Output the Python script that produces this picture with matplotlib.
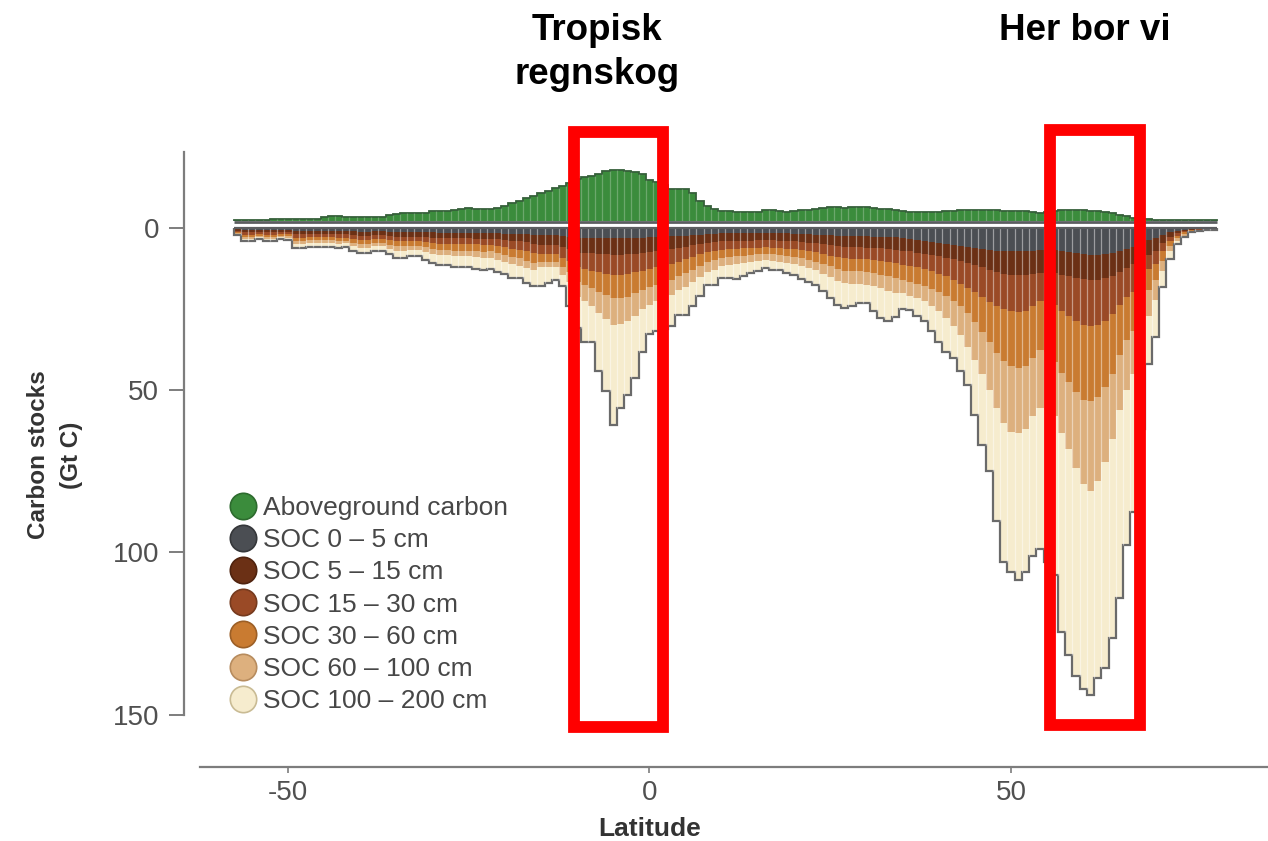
import numpy as np
import matplotlib.pyplot as plt
from matplotlib.lines import Line2D
from matplotlib.patches import Rectangle

plt.rcParams['font.family'] = ['Liberation Sans', 'DejaVu Sans']
plt.rcParams['axes.unicode_minus'] = False

# 1-degree latitude bands
lat = np.arange(-57, 79)

# aboveground carbon (Gt C), drawn above the zero line
agc = [0.3, 0.3, 0.3, 0.3, 0.3, 0.4, 0.4, 0.4, 0.5, 0.5,
       0.5, 0.6, 1.0, 1.3, 1.3, 1.0, 1.0, 1.0, 1.0, 1.0,
       1.2, 1.7, 2.0, 2.5, 2.5, 2.5, 2.5, 3.0, 3.0, 3.0,
       3.2, 3.5, 3.8, 3.5, 3.5, 3.5, 4.0, 4.6, 5.5, 6.1,
       7.0, 7.7, 8.5, 9.2, 10.0, 10.7, 11.5, 12.8, 13.6, 13.8,
       14.5, 15.2, 15.5, 15.5, 15.4, 14.9, 14.5, 12.5, 12.0, 11.0,
       9.9, 9.9, 9.9, 8.7, 6.1, 4.6, 3.5, 3.0, 3.0, 2.8,
       2.7, 2.7, 2.8, 3.3, 3.3, 2.9, 2.7, 2.9, 3.2, 3.3,
       3.7, 4.0, 4.1, 4.1, 4.0, 4.1, 4.1, 4.1, 4.0, 3.7,
       3.5, 3.2, 3.0, 2.8, 2.7, 2.7, 2.7, 2.8, 3.0, 3.0,
       3.2, 3.3, 3.3, 3.3, 3.3, 3.2, 3.0, 3.0, 3.0, 2.9,
       2.6, 2.5, 2.8, 3.0, 3.2, 3.3, 3.3, 3.2, 3.1, 2.9,
       2.7, 2.4, 1.8, 1.3, 0.8, 0.5, 0.4, 0.3, 0.3, 0.2,
       0.2, 0.1, 0.1, 0.1, 0.1, 0.1]

# soil organic carbon (Gt C), cumulative down to each depth
soc_5 = [0.3, 0.5, 0.5, 0.4, 0.5, 0.5, 0.4, 0.5, 0.8, 0.8,
         0.7, 0.7, 0.7, 0.7, 0.8, 0.8, 0.9, 1.0, 1.0, 0.9,
         0.9, 1.0, 1.1, 1.1, 1.1, 1.1, 1.2, 1.2, 1.3, 1.3,
         1.3, 1.3, 1.3, 1.3, 1.4, 1.4, 1.5, 1.6, 1.7, 1.7,
         1.8, 2.0, 2.0, 2.0, 2.1, 2.4, 2.6, 2.9, 3.0, 3.0,
         3.0, 3.0, 3.0, 3.0, 3.0, 2.9, 2.8, 2.7, 2.6, 2.5,
         2.4, 2.3, 2.2, 2.1, 2.0, 1.8, 1.7, 1.5, 1.5, 1.5,
         1.5, 1.5, 1.4, 1.4, 1.4, 1.5, 1.5, 1.6, 1.7, 1.8,
         1.9, 2.0, 2.1, 2.2, 2.3, 2.3, 2.3, 2.4, 2.5, 2.5,
         2.6, 2.7, 2.9, 3.2, 3.5, 3.8, 4.1, 4.4, 4.7, 5.0,
         5.3, 5.6, 5.9, 6.2, 6.5, 6.8, 7.0, 7.1, 7.1, 7.0,
         6.8, 6.6, 6.5, 6.6, 6.9, 7.3, 7.7, 8.0, 8.2, 8.2,
         8.0, 7.7, 7.1, 6.4, 5.8, 4.8, 3.7, 3.0, 2.0, 1.2,
         0.7, 0.4, 0.2, 0.15, 0.1, 0.1]

soc_15 = [0.7, 1.2, 1.2, 1.0, 1.2, 1.2, 1.0, 1.1, 1.8, 1.8,
          1.7, 1.7, 1.7, 1.7, 1.8, 1.8, 2.0, 2.3, 2.3, 2.1,
          2.1, 2.4, 2.6, 2.6, 2.5, 2.5, 2.7, 2.8, 3.0, 3.0,
          3.0, 3.0, 3.0, 3.1, 3.2, 3.2, 3.4, 3.6, 3.9, 4.0,
          4.3, 4.8, 5.0, 5.0, 5.2, 5.8, 6.4, 7.5, 7.6, 7.7,
          7.8, 8.0, 8.1, 8.1, 8.0, 7.8, 7.5, 7.2, 7.0, 6.7,
          6.4, 6.0, 5.6, 5.2, 4.8, 4.4, 4.2, 4.0, 3.9, 3.8,
          3.8, 3.8, 3.7, 3.7, 3.7, 3.8, 3.9, 4.0, 4.2, 4.4,
          4.6, 4.9, 5.2, 5.5, 5.7, 5.8, 5.8, 5.9, 6.0, 6.1,
          6.3, 6.5, 6.8, 7.1, 7.5, 7.8, 8.2, 8.6, 9.0, 9.5,
          10.0, 10.6, 11.3, 12.0, 12.8, 13.5, 14.0, 14.3, 14.4, 14.3,
          14.0, 13.6, 13.5, 13.8, 14.3, 14.8, 15.3, 15.7, 15.9, 15.8,
          15.4, 14.6, 13.5, 12.2, 11.0, 9.5, 8.2, 7.0, 4.5, 2.5,
          1.4, 0.8, 0.4, 0.3, 0.2, 0.2]

soc_30 = [1.0, 1.9, 1.9, 1.6, 1.9, 1.9, 1.6, 1.7, 2.9, 2.9,
          2.7, 2.7, 2.7, 2.7, 2.9, 2.8, 3.2, 3.5, 3.5, 3.2,
          3.2, 3.7, 4.0, 4.0, 3.9, 3.9, 4.2, 4.4, 4.7, 4.7,
          4.8, 4.8, 4.8, 4.9, 5.0, 5.0, 5.4, 5.8, 6.3, 6.5,
          7.0, 7.7, 7.8, 7.8, 8.0, 9.0, 10.0, 12.0, 12.5, 13.0,
          13.5, 14.0, 14.3, 14.3, 14.0, 13.5, 13.0, 12.5, 12.0, 11.5,
          11.0, 10.2, 9.5, 8.8, 8.0, 7.2, 6.9, 6.6, 6.4, 6.2,
          6.1, 6.0, 5.9, 5.8, 5.9, 6.0, 6.2, 6.4, 6.7, 7.0,
          7.4, 7.9, 8.4, 8.9, 9.2, 9.3, 9.3, 9.5, 9.8, 10.1,
          10.5, 10.8, 11.2, 11.6, 12.0, 12.5, 13.2, 14.0, 14.8, 15.8,
          17.0, 18.3, 19.7, 21.2, 22.6, 24.0, 25.0, 25.6, 25.8, 25.6,
          24.0, 22.5, 22.5, 23.6, 25.5, 27.0, 28.5, 29.7, 30.2, 29.8,
          28.5, 26.5, 23.6, 21.0, 19.5, 15.5, 12.6, 11.0, 7.0, 4.0,
          2.2, 1.2, 0.6, 0.4, 0.3, 0.3]

soc_60 = [1.4, 2.7, 2.7, 2.2, 2.7, 2.7, 2.2, 2.4, 4.0, 4.0,
          3.7, 3.7, 3.7, 3.7, 4.0, 3.8, 4.4, 4.8, 4.8, 4.4,
          4.4, 5.0, 5.5, 5.5, 5.3, 5.3, 5.8, 6.2, 6.6, 6.6,
          6.8, 6.8, 6.8, 7.0, 7.2, 7.1, 7.6, 8.2, 8.9, 9.2,
          9.9, 10.6, 10.2, 10.2, 10.3, 12.0, 13.3, 16.5, 17.5, 18.5,
          19.5, 20.5, 21.5, 21.5, 21.0, 20.0, 19.0, 18.0, 17.5, 16.8,
          16.0, 14.8, 13.8, 12.8, 11.5, 10.3, 9.8, 9.2, 8.9, 8.6,
          8.4, 8.2, 8.0, 7.9, 8.0, 8.2, 8.5, 8.8, 9.2, 9.6,
          10.2, 10.9, 11.7, 12.5, 13.0, 13.2, 13.2, 13.4, 13.8, 14.3,
          14.8, 15.3, 15.8, 16.4, 17.0, 17.7, 18.6, 19.6, 20.8, 22.3,
          24.0, 26.2, 28.8, 31.8, 35.0, 38.5, 41.0, 42.5, 43.0, 42.5,
          40.0, 37.5, 38.0, 41.3, 44.5, 47.5, 50.5, 53.0, 53.4, 52.0,
          49.0, 45.0, 39.0, 34.5, 31.5, 25.0, 19.0, 16.0, 10.0, 5.5,
          3.0, 1.7, 0.8, 0.55, 0.4, 0.35]

soc_100 = [1.7, 3.3, 3.3, 2.7, 3.3, 3.3, 2.7, 2.9, 4.9, 4.9,
           4.5, 4.5, 4.5, 4.5, 4.9, 4.6, 5.3, 5.9, 5.9, 5.4,
           5.4, 6.2, 6.8, 6.8, 6.6, 6.6, 7.3, 7.8, 8.3, 8.3,
           8.6, 8.6, 8.6, 8.8, 9.1, 9.0, 9.6, 10.3, 11.1, 11.5,
           12.3, 12.8, 12.0, 12.0, 12.0, 14.3, 16.5, 21.0, 22.5, 24.0,
           26.0, 28.0, 29.7, 29.5, 28.5, 27.0, 25.0, 23.5, 22.5, 21.5,
           20.5, 19.0, 18.0, 16.5, 15.0, 13.3, 12.7, 11.7, 11.3, 11.0,
           10.7, 10.3, 10.0, 9.8, 10.0, 10.2, 10.6, 11.0, 11.6, 12.2,
           12.9, 13.9, 15.0, 16.1, 16.8, 17.0, 17.0, 17.3, 17.9, 18.5,
           19.2, 19.8, 20.0, 20.7, 21.5, 22.5, 23.8, 25.4, 27.5, 30.0,
           33.0, 36.5, 40.5, 45.0, 50.0, 55.5, 60.0, 62.7, 63.0, 62.0,
           58.0, 55.5, 56.0, 57.8, 63.0, 68.0, 74.0, 79.0, 80.9, 78.0,
           72.0, 65.0, 56.0, 50.0, 45.0, 35.0, 27.0, 22.0, 13.0, 7.0,
           4.0, 2.2, 1.0, 0.7, 0.5, 0.4]

soc_200 = [2.0, 4.0, 4.0, 3.2, 4.0, 4.0, 3.2, 3.5, 6.1, 6.1,
           5.6, 5.6, 5.6, 5.6, 6.1, 5.8, 6.8, 7.6, 7.6, 6.9,
           6.9, 8.0, 9.0, 9.0, 8.6, 8.6, 9.7, 10.7, 11.4, 11.4,
           12.0, 12.0, 12.0, 12.4, 12.8, 12.4, 13.3, 14.1, 15.3, 15.3,
           16.7, 17.9, 17.9, 16.9, 15.8, 17.9, 24.0, 30.8, 34.9, 34.9,
           44.1, 50.1, 60.6, 55.5, 51.3, 46.2, 38.0, 32.6, 31.5, 31.0,
           30.2, 26.6, 26.6, 23.8, 20.7, 17.4, 17.4, 15.3, 15.3, 15.5,
           14.8, 13.8, 13.0, 12.2, 12.8, 12.8, 13.8, 14.5, 15.6, 16.4,
           17.6, 19.4, 21.5, 23.6, 24.6, 24.0, 23.0, 23.0, 25.6, 27.5,
           28.7, 27.2, 25.0, 25.3, 27.0, 28.7, 31.5, 35.0, 38.0, 40.0,
           44.1, 48.2, 57.5, 66.8, 75.0, 90.4, 102.8, 105.9, 108.4, 106.0,
           101.2, 99.0, 103.0, 106.9, 124.4, 131.6, 138.0, 142.0, 143.9, 138.8,
           135.7, 126.5, 114.1, 97.8, 87.5, 62.0, 41.7, 33.5, 18.1, 9.3,
           4.9, 2.7, 1.2, 0.8, 0.6, 0.5]

labels = ['Aboveground carbon', 'SOC 0 \u2013 5 cm', 'SOC 5 \u2013 15 cm', 'SOC 15 \u2013 30 cm',
          'SOC 30 \u2013 60 cm', 'SOC 60 \u2013 100 cm', 'SOC 100 \u2013 200 cm']
colors = ['#3b8c3c', '#4b4e53', '#6b3015', '#9a4a26', '#c97b31', '#ddb07e', '#f6ecce']
edge_colors = ['#2d6b2e', '#35373a', '#4f230f', '#763a1e', '#9c5f26', '#b78c5e', '#c9bb94']

ag_base = -2.4

fig = plt.figure(figsize=(12.68, 8.41), dpi=100)
ax = fig.add_axes([184 / 1268, 74 / 841, 1084 / 1268, 615 / 841])

edges = np.append(lat - 0.5, lat[-1] + 0.5)

# aboveground bars (upwards)
agc = np.array(agc)
ax.bar(lat, -agc, bottom=ag_base, width=1.0, color=colors[0], linewidth=0)

# soil layers (downwards, stacked)
tops = [np.array(a) for a in (soc_5, soc_15, soc_30, soc_60, soc_100, soc_200)]
prev = np.zeros(len(lat))
for top, col in zip(tops, colors[1:]):
    ax.bar(lat, top - prev, bottom=prev, width=1.0, color=col, linewidth=0)
    prev = top

# light stripes between bars
total = tops[-1]
ax.vlines(edges[1:-1], 0, np.minimum(total[:-1], total[1:]), color='white', alpha=0.45, lw=0.9)
ax.vlines(edges[1:-1], ag_base, ag_base - np.minimum(agc[:-1], agc[1:]), color='white', alpha=0.25, lw=0.9)

# outlines
ax.stairs(total, edges, baseline=0, color='#6a6a6a', lw=1.6)
ax.stairs(ag_base - agc, edges, baseline=ag_base, color='#36603a', lw=1.3)
ax.hlines(ag_base + 0.3, edges[0], edges[-1], color='#5c5e60', lw=2.0)
ax.hlines(0, edges[0], edges[-1], color='#5c5e60', lw=1.6)

ax.set_xlim(-64.38, 85.55)
ax.set_ylim(166.2, -23.6)

for s in ['top', 'right']:
    ax.spines[s].set_visible(False)
ax.spines['left'].set_bounds(-23.6, 150)
ax.spines['bottom'].set_bounds(-62.2, 85.55)
for s in ['left', 'bottom']:
    ax.spines[s].set_color('#7d7d7d')
    ax.spines[s].set_linewidth(1.6)

ax.set_yticks([0, 50, 100, 150])
ax.set_xticks([-50, 0, 50])
ax.set_xticklabels(['-50', '0', '50'])
ax.tick_params(axis='y', length=11, width=1.4, color='#7d7d7d', pad=7, labelsize=20, labelcolor='#505050')
ax.tick_params(axis='x', length=4, width=1.2, color='#7d7d7d', pad=5, labelsize=20, labelcolor='#505050')

# legend
handles = [Line2D([], [], marker='o', ls='', markersize=19, markerfacecolor=c,
                  markeredgecolor=e, markeredgewidth=1.2) for c, e in zip(colors, edge_colors)]
leg = ax.legend(handles, labels, loc='upper left', bbox_to_anchor=(229 / 1268, 1 - 496 / 841),
                bbox_transform=fig.transFigure, frameon=False, fontsize=19, borderpad=0,
                handlelength=1.06, handletextpad=0.23, labelspacing=0.31, borderaxespad=0)
for t in leg.get_texts():
    t.set_color('#474747')

# axis titles
fig.text(55 / 1268, 1 - 455 / 841, 'Carbon stocks\n(Gt C)', rotation=90, ha='center', va='center',
         multialignment='center', fontsize=17.5, fontweight='bold', color='#333333', linespacing=1.6)
fig.text(650 / 1268, 1 - 836 / 841, 'Latitude', ha='center', va='baseline',
         fontsize=19, fontweight='bold', color='#333333')

# highlighted regions
boxes = [(-10.44, -29.78, 12.31, 183.5), (55.33, -30.25, 12.51, 183.35)]
for x0, y0, w, h in boxes:
    ax.add_patch(Rectangle((x0, y0), w, h, fill=False, edgecolor='#ff0000', lw=8.5,
                           clip_on=False, zorder=5))

fig.text(597 / 1268, 1 - 40 / 841, 'Tropisk', ha='center', va='baseline', fontsize=26.5,
         fontweight='bold', color='black')
fig.text(597 / 1268, 1 - 84 / 841, 'regnskog', ha='center', va='baseline', fontsize=26.5,
         fontweight='bold', color='black')
fig.text(1085 / 1268, 1 - 40 / 841, 'Her bor vi', ha='center', va='baseline', fontsize=26.5,
         fontweight='bold', color='black')

fig.savefig('out.png', dpi=100, facecolor='white')
